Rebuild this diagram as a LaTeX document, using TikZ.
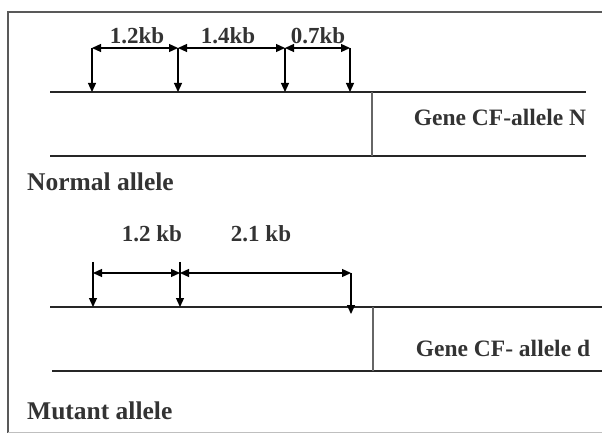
\documentclass[tikz,border=0pt]{standalone}
\usepackage{fontspec}
\setmainfont{Liberation Serif}
\usetikzlibrary{arrows.meta}
\begin{document}
\begin{tikzpicture}[x=1pt,y=-1pt,
  gline/.style={line width=2.4pt,draw=black!85},
  divider/.style={line width=1.8pt,draw=black!60},
  dim/.style={line width=1.2pt,{Triangle[length=9pt,width=8pt]}-{Triangle[length=9pt,width=8pt]}},
  drop/.style={line width=1.2pt,-{Triangle[length=9pt,width=8pt]}},
  lbl/.style={font=\fontsize{23}{26}\selectfont\bfseries,text=black!80,inner sep=0pt},
  glbl/.style={lbl,font=\fontsize{23.5}{26}\selectfont\bfseries},
  albl/.style={lbl,font=\fontsize{25.5}{28}\selectfont\bfseries,anchor=west},
  frameline/.style={line width=2pt,draw=black!65}]
\useasboundingbox (0,0) rectangle (602,438);
% frame
\draw[frameline] (602,12) -- (8,12) -- (8,433);
\draw[line width=1pt,draw=black!25] (8,432) -- (602,432);
% normal allele gene
\coordinate (n1) at (50,92); \coordinate (n2) at (586,92);
\coordinate (n3) at (50,156); \coordinate (n4) at (586,156);
\coordinate (nd1) at (372,92); \coordinate (nd2) at (372,156);
\draw[gline] (n1) -- (n2);
\draw[gline] (n3) -- (n4);
\draw[divider] (nd1) -- (nd2);
% normal sites
\coordinate (na) at (92,48); \coordinate (nb) at (178,48);
\coordinate (nc) at (285,48); \coordinate (ne) at (350,48);
\coordinate (nab) at (92,92); \coordinate (nbb) at (178,92);
\coordinate (ncb) at (285,92); \coordinate (neb) at (350,92);
\draw[dim] (na) -- (nb);
\draw[dim] (nb) -- (nc);
\draw[dim] (nc) -- (ne);
\draw[drop] (na) -- (nab);
\draw[drop] (nb) -- (nbb);
\draw[drop] (nc) -- (ncb);
\draw[drop] (ne) -- (neb);
\node[lbl] (l1) at (137,36) {1.2kb};
\node[lbl] (l2) at (228,36) {1.4kb};
\node[lbl] (l3) at (318,36) {0.7kb};
\node[glbl] (gN) at (500,117) {Gene CF-allele N};
\node[albl] (nl) at (27,182) {Normal allele};
% mutant allele gene
\coordinate (m1) at (50,307); \coordinate (m2) at (602,307);
\coordinate (m3) at (52,371); \coordinate (m4) at (602,371);
\coordinate (md1) at (373,307); \coordinate (md2) at (373,371);
\draw[gline] (m1) -- (m2);
\draw[gline] (m3) -- (m4);
\draw[divider] (md1) -- (md2);
% mutant sites
\coordinate (mat) at (93,262); \coordinate (mbt) at (180,262);
\coordinate (ma) at (93,273); \coordinate (mb) at (180,273);
\coordinate (mc) at (351,273);
\coordinate (mab) at (93,307); \coordinate (mbb) at (180,307);
\coordinate (mcb) at (351,314);
\draw[dim] (ma) -- (mb);
\draw[dim] (mb) -- (mc);
\draw[drop] (mat) -- (mab);
\draw[drop] (mbt) -- (mbb);
\draw[drop] (mc) -- (mcb);
\node[lbl] (k1) at (152,234) {1.2 kb};
\node[lbl] (k2) at (261,234) {2.1 kb};
\node[glbl] (gd) at (503,348) {Gene CF- allele d};
\node[albl] (ml) at (27,411) {Mutant allele};
\end{tikzpicture}
\end{document}
